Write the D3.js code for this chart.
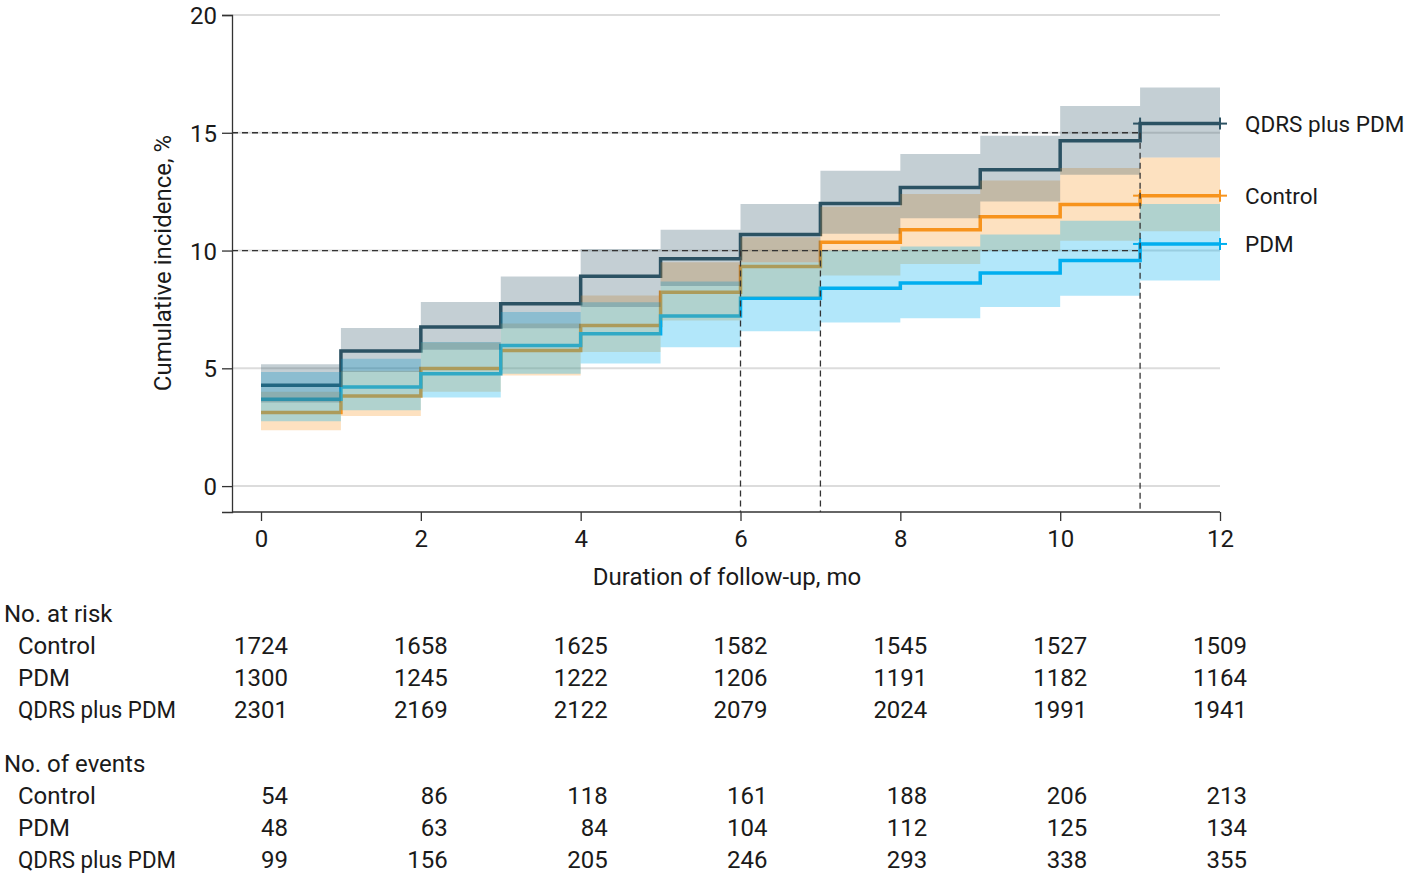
<!doctype html>
<html>
<head>
<meta charset="utf-8" />
<script src="https://cdn.jsdelivr.net/npm/d3@7"></script>
<style>
  body { margin: 0; background: #fff; }
  svg text { font-family: Roboto, Lato, sans-serif; fill: #1a1a1a; }
</style>
</head>
<body>
<svg id="chart" width="1407" height="878"></svg>
<script>
// month at which each step starts (last step runs to 12)
var months = [0, 1, 2, 3, 4, 5, 6, 7, 8, 9, 10, 11];

var controlEst = [3.12, 3.83, 4.99, 5.76, 6.82, 8.23, 9.32, 10.35, 10.88, 11.44, 11.95, 12.33];
var controlLo  = [2.37, 2.98, 4.00, 4.70, 5.69, 7.03, 8.02, 8.94, 9.43, 10.00, 10.42, 10.82];
var controlHi  = [4.00, 4.90, 6.10, 6.90, 8.09, 9.50, 10.56, 11.86, 12.40, 12.97, 13.50, 13.95];

var pdmEst = [3.69, 4.21, 4.77, 5.97, 6.47, 7.22, 7.98, 8.40, 8.62, 9.05, 9.58, 10.28];
var pdmLo  = [2.75, 3.22, 3.76, 4.77, 5.20, 5.89, 6.57, 6.94, 7.13, 7.60, 8.08, 8.73];
var pdmHi  = [4.84, 5.41, 6.12, 7.39, 7.81, 8.69, 9.50, 10.00, 10.17, 10.68, 11.27, 11.98];

var qdrsEst = [4.28, 5.73, 6.75, 7.74, 8.91, 9.65, 10.68, 12.00, 12.68, 13.43, 14.66, 15.39];
var qdrsLo  = [3.55, 4.84, 5.79, 6.70, 7.60, 8.49, 9.50, 10.71, 11.37, 12.08, 13.22, 13.95];
var qdrsHi  = [5.17, 6.71, 7.82, 8.90, 10.07, 10.88, 11.98, 13.39, 14.10, 14.87, 16.14, 16.92];

var seriesNames = ["Control", "PDM", "QDRS plus PDM"];
var seriesColors = ["#f7941d", "#00aeef", "#2c5263"];

var yTicks = [0, 5, 10, 15, 20];
var xTicks = [0, 2, 4, 6, 8, 10, 12];
var censorMonths = [11, 12];

// reference lines: horizontal at a level up to a month, vertical at a month from a level down
var refLevels = [10, 15];
var refLevelEnd = [11, 11];
var refMonths = [6, 7, 11];
var refMonthLevel = [10, 10, 15];

var riskControl = [1724, 1658, 1625, 1582, 1545, 1527, 1509];
var riskPdm     = [1300, 1245, 1222, 1206, 1191, 1182, 1164];
var riskQdrs    = [2301, 2169, 2122, 2079, 2024, 1991, 1941];

var eventsControl = [54, 86, 118, 161, 188, 206, 213];
var eventsPdm     = [48, 63, 84, 104, 112, 125, 134];
var eventsQdrs    = [99, 156, 205, 246, 293, 338, 355];

var FS = 24;
var svg = d3.select("#chart");

var x = d3.scaleLinear().domain([-0.363, 12]).range([232, 1220]);
var y = d3.scaleLinear().domain([-1.1, 20]).range([512, 15]);

// build step series, repeating last value at month 12
function steps(vals) {
  var pts = months.map(function (m, i) { return { m: m, v: vals[i] }; });
  pts.push({ m: 12, v: vals[vals.length - 1] });
  return pts;
}
function bandSteps(lo, hi) {
  var pts = months.map(function (m, i) { return { m: m, lo: lo[i], hi: hi[i] }; });
  pts.push({ m: 12, lo: lo[lo.length - 1], hi: hi[hi.length - 1] });
  return pts;
}

// long label is a bit wide in this font, squeeze it to the reference width
function fit(sel) {
  sel.each(function () {
    if (this.textContent === "QDRS plus PDM") {
      d3.select(this).attr("textLength", 158).attr("lengthAdjust", "spacingAndGlyphs");
    }
  });
}

var series = [
  { name: seriesNames[0], color: seriesColors[0], est: controlEst, lo: controlLo, hi: controlHi },
  { name: seriesNames[1], color: seriesColors[1], est: pdmEst, lo: pdmLo, hi: pdmHi },
  { name: seriesNames[2], color: seriesColors[2], est: qdrsEst, lo: qdrsLo, hi: qdrsHi }
];

// gridlines
svg.append("g").selectAll("line").data(yTicks).join("line")
  .attr("x1", x(-0.363)).attr("x2", x(12))
  .attr("y1", function (d) { return y(d); }).attr("y2", function (d) { return y(d); })
  .attr("stroke", "#dcdcdc").attr("stroke-width", 2);

// lines first, then translucent bands over them
var line = d3.line().x(function (d) { return x(d.m); }).y(function (d) { return y(d.v); }).curve(d3.curveStepAfter);
var area = d3.area().x(function (d) { return x(d.m); })
  .y0(function (d) { return y(d.lo); }).y1(function (d) { return y(d.hi); }).curve(d3.curveStepAfter);

svg.append("g").selectAll("path").data(series).join("path")
  .attr("d", function (s) { return line(steps(s.est)); })
  .attr("fill", "none").attr("stroke", function (s) { return s.color; })
  .attr("stroke-width", 3.5);

svg.append("g").selectAll("path").data(series).join("path")
  .attr("d", function (s) { return area(bandSteps(s.lo, s.hi)); })
  .attr("fill", function (s) { return s.color; })
  .attr("fill-opacity", function (s, i) { return i === 1 ? 0.3 : 0.28; });

// censor marks
series.forEach(function (s) {
  var last = s.est[s.est.length - 1];
  var g = svg.append("g").attr("stroke", s.color).attr("stroke-width", 2);
  censorMonths.forEach(function (m) {
    g.append("line").attr("x1", x(m) - 7).attr("x2", x(m) + 7).attr("y1", y(last)).attr("y2", y(last));
    g.append("line").attr("x1", x(m)).attr("x2", x(m)).attr("y1", y(last) - 6).attr("y2", y(last) + 6);
  });
});

// dashed reference lines
var ref = svg.append("g").attr("stroke", "#333").attr("stroke-width", 1.3).attr("stroke-dasharray", "6,4");
refLevels.forEach(function (lv, i) {
  ref.append("line").attr("x1", x(-0.363)).attr("x2", x(refLevelEnd[i])).attr("y1", y(lv)).attr("y2", y(lv));
});
refMonths.forEach(function (m, i) {
  ref.append("line").attr("x1", x(m)).attr("x2", x(m)).attr("y1", y(refMonthLevel[i])).attr("y2", y(-1.1));
});

// axes
var yAxis = svg.append("g").attr("transform", "translate(232,0)")
  .call(d3.axisLeft(y).tickValues(yTicks).tickSize(10).tickPadding(5));
var xAxis = svg.append("g").attr("transform", "translate(0,512)")
  .call(d3.axisBottom(x).tickValues(xTicks).tickSize(9).tickPadding(9));
[yAxis, xAxis].forEach(function (a) {
  a.select(".domain").attr("stroke", "#333").attr("stroke-width", 1.3);
  a.selectAll(".tick line").attr("stroke", "#333").attr("stroke-width", 1.3);
  a.selectAll(".tick text").attr("font-size", FS).attr("fill", "#1a1a1a")
    .style("font-family", "Roboto, Lato, sans-serif");
});
yAxis.selectAll(".tick text").attr("dy", "0.36em");
xAxis.select(".domain").attr("d", "M232,0H1220");

svg.append("text").attr("transform", "translate(171,263) rotate(-90)")
  .attr("text-anchor", "middle").attr("font-size", FS).text("Cumulative incidence, %");
svg.append("text").attr("x", 727).attr("y", 585)
  .attr("text-anchor", "middle").attr("font-size", FS).text("Duration of follow-up, mo");

// end labels (slightly smaller so the long one fits the page)
series.forEach(function (s) {
  svg.append("text").attr("x", 1245).attr("y", y(s.est[s.est.length - 1]))
    .attr("dy", "0.36em").attr("font-size", 22.5).text(s.name);
});

// number tables
function table(title, top, rows) {
  svg.append("text").attr("x", 4).attr("y", top).attr("dy", "0.36em").attr("font-size", FS).text(title);
  rows.forEach(function (r, i) {
    var ry = top + 32 * (i + 1);
    svg.append("text").attr("x", 18).attr("y", ry).attr("dy", "0.36em").attr("font-size", FS)
      .text(seriesNames[i]).call(fit);
    svg.append("g").selectAll("text").data(r).join("text")
      .attr("x", function (d, j) { return x(xTicks[j]) + 27; })
      .attr("y", ry).attr("dy", "0.36em").attr("text-anchor", "end").attr("font-size", FS)
      .text(function (d) { return d; });
  });
}
table("No. at risk", 613, [riskControl, riskPdm, riskQdrs]);
table("No. of events", 763, [eventsControl, eventsPdm, eventsQdrs]);
</script>
</body>
</html>
